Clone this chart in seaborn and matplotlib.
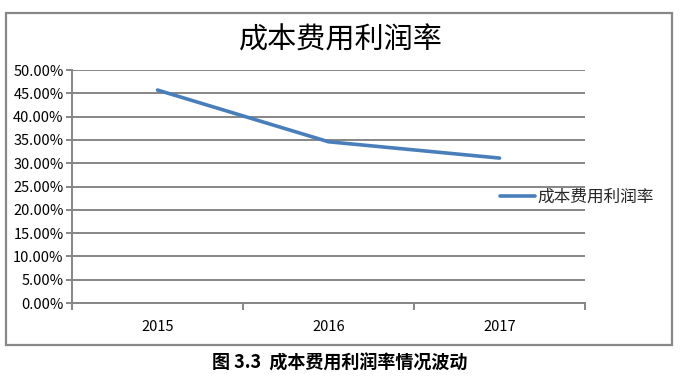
import matplotlib
matplotlib.use("Agg")
import matplotlib.pyplot as plt
import seaborn as sns
import pandas as pd
from matplotlib.patches import Rectangle
from matplotlib.ticker import FuncFormatter, FixedLocator

years = ["2015", "2016", "2017"]
values = [0.457, 0.346, 0.311]
series_name = "成本费用利润率"
title = "成本费用利润率"
caption = "图 3.3  成本费用利润率情况波动"
yticks = [0.0, 0.05, 0.10, 0.15, 0.20, 0.25, 0.30, 0.35, 0.40, 0.45, 0.50]

sns.set_theme(style="white")
plt.rcParams['font.family'] = ['Noto Sans CJK SC', 'DejaVu Sans']

df = pd.DataFrame({"pos": range(len(years)), "value": values, "series": series_name})

fig = plt.figure(figsize=(6.8, 3.78), dpi=100)
ax = fig.add_axes([0.1059, 0.1984, 0.7544, 0.6164])

grid_c = "#868686"
sns.lineplot(data=df, x="pos", y="value", hue="series", palette=["#4A7EBB"],
             linewidth=2.6, ax=ax, legend=True)

ax.set_xlim(-0.5, len(years) - 0.5)
ax.set_ylim(0, 0.5)
ax.set_yticks(yticks)
ax.yaxis.set_major_formatter(FuncFormatter(lambda v, p: f"{v*100:.2f}%"))
ax.yaxis.grid(True, color=grid_c, linewidth=1.4)
ax.set_axisbelow(True)
ax.set_xticks(range(len(years)))
ax.set_xticklabels(years)
ax.xaxis.set_minor_locator(FixedLocator([i - 0.5 for i in range(len(years) + 1)]))
ax.tick_params(axis="x", which="major", length=0, pad=12, labelsize=10.5, colors="black")
ax.tick_params(axis="x", which="minor", length=5, width=1.4, color=grid_c, bottom=True)
ax.tick_params(axis="y", which="major", length=4, width=1.4, color=grid_c, left=True,
               labelsize=10.5, pad=2, colors="black")
for s in ["top", "right"]:
    ax.spines[s].set_visible(False)
for s in ["left", "bottom"]:
    ax.spines[s].set_color(grid_c)
    ax.spines[s].set_linewidth(1.4)
ax.set_xlabel("")
ax.set_ylabel("")

leg = ax.legend(loc="center left", bbox_to_anchor=(0.736, 0.478),
                bbox_transform=fig.transFigure, frameon=False, borderpad=0,
                borderaxespad=0, fontsize=12, handlelength=2.1, handletextpad=0.1)
for h in leg.get_lines():
    h.set_linewidth(2.6)

fig.text(0.5015, 0.893, title, ha="center", va="center", fontsize=21, color="black")
fig.text(0.5, 0.040, caption, ha="center", va="center", fontsize=13,
         fontweight="bold", color="black")

fig.patches.append(Rectangle((0.0088, 0.0873), 0.979, 0.878, transform=fig.transFigure,
                             fill=False, edgecolor="#888888", linewidth=1.6))

fig.savefig("out.png", dpi=100)
